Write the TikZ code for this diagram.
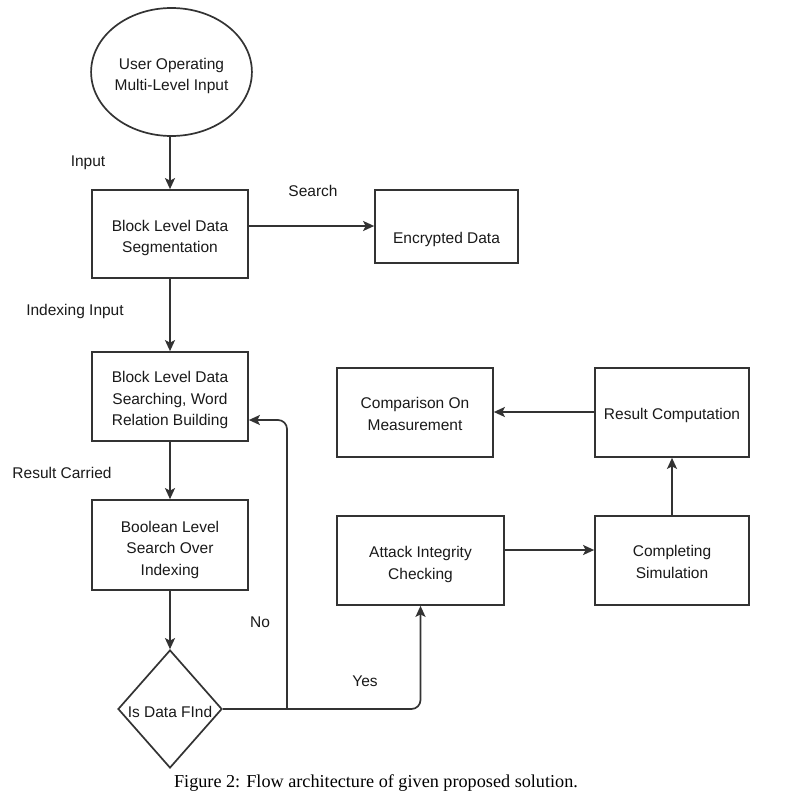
\documentclass[tikz,border=0pt]{standalone}
\usepackage{fontspec}
\setmainfont{Liberation Sans}
\newfontfamily\capfont{Liberation Serif}
\usetikzlibrary{shapes.geometric,arrows.meta}
\definecolor{linec}{HTML}{333333}
\definecolor{txtc}{HTML}{1A1A1A}
\newcommand{\boxtxt}[2][-3.5pt]{\raisebox{#1}[\height][\depth]{\begin{tabular}{@{}c@{}}#2\end{tabular}}}
\begin{document}
\begin{tikzpicture}[x=1pt,y=-1pt,
  every node/.style={text=txtc, font=\fontsize{15.5}{21.5}\selectfont},
  box/.style={draw=linec, line width=1.7pt, inner sep=0pt, align=center, minimum width=156pt, minimum height=89pt},
  lbl/.style={inner sep=0pt},
  conn/.style={draw=linec, line width=1.7pt, -{Stealth[length=11pt,width=10pt,inset=2.5pt]}}]
\useasboundingbox[fill=white] (0,0) rectangle (786,800);
% nodes
\node (ell) [draw=linec, line width=1.7pt, ellipse, minimum width=160pt, minimum height=128pt, inner sep=0pt, align=center] at (171.5,72) {\boxtxt{User Operating\\Multi-Level Input}};
\node (b1) [box, minimum height=88pt] at (170,234) {\boxtxt{Block Level Data\\Segmentation}};
\node (enc) [box, minimum width=143pt, minimum height=73pt] at (446.5,226.5) {\boxtxt[-13pt]{Encrypted Data}};
\node (b2) [box] at (170,396.5) {\boxtxt{Block Level Data\\Searching, Word\\Relation Building}};
\node (b3) [box, minimum height=90pt] at (170,545) {\boxtxt[-4.5pt]{Boolean Level\\Search Over\\Indexing}};
\node (dia) [draw=linec, line width=1.7pt, diamond, minimum width=104pt, minimum height=118pt, inner sep=0pt] at (170,709) {};
\node (diat) [lbl] at ([yshift=-2.5pt]dia.center) {Is Data FInd};
\node (att) [box, minimum width=167pt] at (420.5,560.5) {\boxtxt{Attack Integrity\\Checking}};
\node (sim) [box, minimum width=154pt] at (672,560.5) {\boxtxt[-2.5pt]{Completing\\Simulation}};
\node (res) [box, minimum width=154pt] at (672,412.5) {\boxtxt[-3pt]{Result Computation}};
\node (cmp) [box] at (415,412.5) {\boxtxt[-2.5pt]{Comparison On\\Measurement}};
% labels
\node (lin) [lbl] at (88,162.5) {Input};
\node (lse) [lbl] at (313,191) {Search};
\node (lii) [lbl] at (75,311.5) {Indexing Input};
\node (lrc) [lbl] at (62,473) {Result Carried};
\node (lno) [lbl] at (260,622) {No};
\node (lye) [lbl] at (365,681) {Yes};
\node (cap) [lbl, font=\capfont\fontsize{18.2}{21}\selectfont, text=black] at (376,783) {Figure 2: Flow architecture of given proposed solution.};
% helper coordinates
\coordinate (j) at (287,709);
\coordinate (noc) at (287,420);
\coordinate (asy) at (0,550);
\coordinate (ency) at (0,226);
\coordinate (rcy) at (0,412);
% connectors
\draw[conn] (b1.north |- ell.south) -- (b1.north);
\draw[conn] (b1.east |- ency) -- (enc.west |- ency);
\draw[conn] (b1.south) -- (b2.north);
\draw[conn] (b2.south) -- (b3.north);
\draw[conn] (b3.south) -- (dia.north);
\draw[conn, rounded corners=9pt] (dia.east) -| (att.south);
\draw[conn, rounded corners=9pt] (j) |- (b2.east |- noc);
\draw[conn] (att.east |- asy) -- (sim.west |- asy);
\draw[conn] (sim.north) -- (res.south);
\draw[conn] (res.west |- rcy) -- (cmp.east |- rcy);
\end{tikzpicture}
\end{document}
